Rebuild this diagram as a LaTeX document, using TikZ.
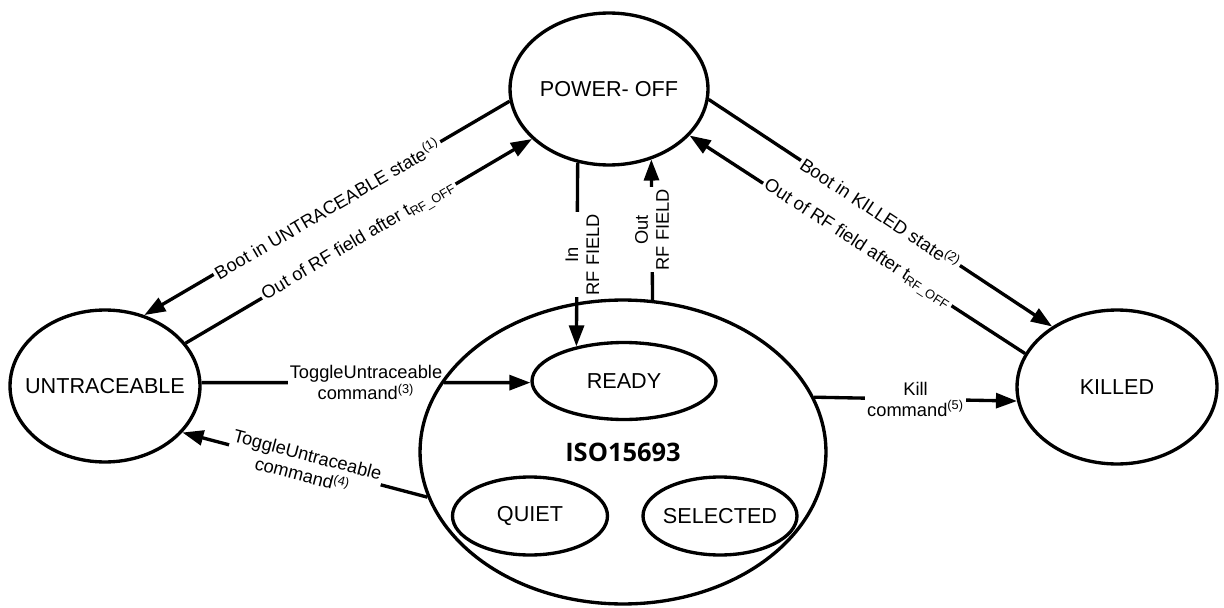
\documentclass[tikz,border=0pt]{standalone}
\usepackage{fontspec}
\setmainfont{Liberation Sans}
\newfontfamily\isofont{Open Sans}
\usepackage{tikz}
\usetikzlibrary{arrows.meta}
\usetikzlibrary{shapes.geometric}
\pgfdeclarelayer{edges}
\pgfsetlayers{edges,main}

\newcommand{\statesize}{\fontsize{12.3}{14}\selectfont}
\newcommand{\edgesize}{\fontsize{10.4}{12}\selectfont}

\begin{document}
\begin{tikzpicture}[x=0.02cm, y=-0.02cm, line cap=round, line join=round,
    >={Triangle[length=12pt, width=8.5pt]},
    state/.style={ellipse, draw, line width=1.9pt, inner xsep=-8pt, inner ysep=0pt, font=\statesize},
    trans/.style={->, line width=1.9pt},
    lbl/.style={fill=white, inner sep=1.2pt, font=\edgesize, align=center}]
  \useasboundingbox (0,0) rectangle (1224,608);
  %--- ISO15693 and its substates
    \node[state, minimum width=8.12cm, minimum height=6.08cm,
          font=\isofont\bfseries\fontsize{14.5}{16}\selectfont] (iso) at (623,452) {ISO15693};
    \node[state, minimum width=3.68cm, minimum height=1.54cm] (ready) at (624,381) {READY};
    \node[state, minimum width=3.1cm, minimum height=1.56cm] (quiet) at (530,516) {QUIET};
    \node[state, minimum width=3.08cm, minimum height=1.56cm] (sel) at (720,516) {SELECTED};
  %--- other states
    \node[state, minimum width=3.96cm, minimum height=3.04cm] (pwr) at (609,89) {POWER- OFF};
    \node[state, minimum width=3.8cm, minimum height=3.04cm] (untr) at (105,386) {UNTRACEABLE};
    \node[state, minimum width=4cm, minimum height=3.08cm] (killed) at (1117,387) {KILLED};
  \begin{pgfonlayer}{edges}
  %--- POWER-OFF <-> UNTRACEABLE
    \draw[trans] (pwr.187.5) -- (untr.61.8)
      node[lbl, midway, sloped] {Boot in UNTRACEABLE state\textsuperscript{(1)}};
    \draw[trans] (untr.28.9) -- (pwr.213.9)
      node[lbl, midway, sloped] {Out of RF field after t\textsubscript{RF\_OFF}};
  %--- POWER-OFF <-> KILLED
    \draw[trans] (pwr.354.8) -- (killed.137.3)
      node[lbl, midway, sloped] {Boot in KILLED state\textsuperscript{(2)}};
    \draw[trans] (killed.160.8) -- (pwr.330.4)
      node[lbl, midway, sloped] {Out of RF field after t\textsubscript{RF\_OFF}};
  %--- RF field
    \draw[trans] (pwr.247) -- (ready.144.2)
      node[lbl, midway, rotate=90, xshift=0pt, yshift=-3pt] {In\\RF FIELD};
    \draw[trans] (iso.79.5) -- (pwr.301.4)
      node[lbl, midway, rotate=90] {Out\\RF FIELD};
  %--- ToggleUntraceable
    \draw[trans] (untr.2) -- (ready.181)
      node[lbl, midway] {ToggleUntraceable\\command\textsuperscript{(3)}};
    \draw[trans] (iso.193.1) -- (untr.329.1)
      node[lbl, midway, sloped] {ToggleUntraceable\\command\textsuperscript{(4)}};
  %--- Kill
    \draw[trans] (iso.16) -- (killed.188)
      node[lbl, midway] {Kill\\command\textsuperscript{(5)}};
  \end{pgfonlayer}
\end{tikzpicture}
\end{document}
